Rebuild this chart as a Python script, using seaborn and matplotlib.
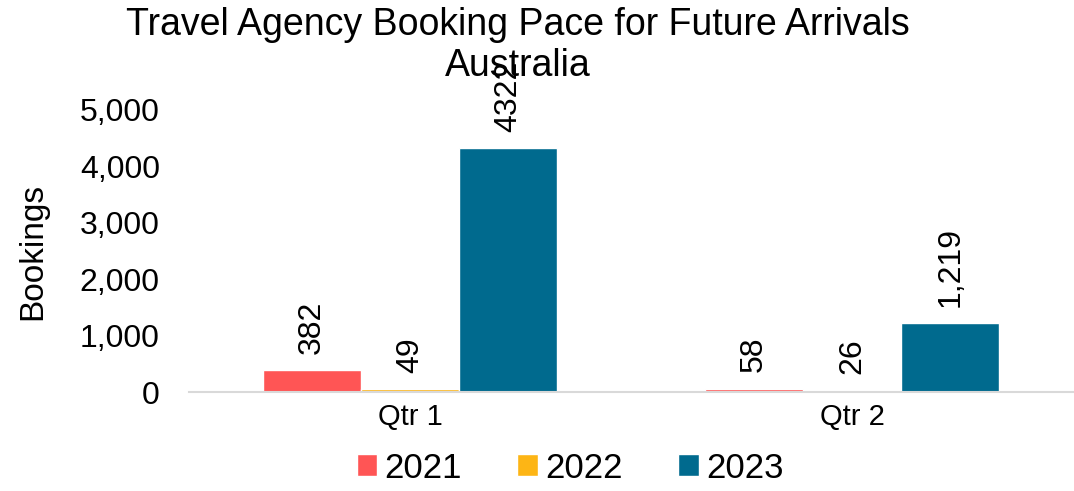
import pandas as pd
import matplotlib.pyplot as plt
import seaborn as sns

quarters = ['Qtr 1', 'Qtr 2']
years = ['2021', '2022', '2023']
bookings_2021 = [382, 58]
bookings_2022 = [49, 26]
bookings_2023 = [4322, 1219]
label_text = {
    '2021': ['382', '58'],
    '2022': ['49', '26'],
    '2023': ['4322', '1,219'],
}
colors = ['#FF5555', '#FDB515', '#006A8E']

df = pd.DataFrame({
    'quarter': quarters * 3,
    'year': [y for y in years for _ in quarters],
    'bookings': bookings_2021 + bookings_2022 + bookings_2023,
})

sns.set_style('white')
plt.rcParams['font.family'] = ['Liberation Sans', 'DejaVu Sans']
plt.rcParams['text.color'] = 'black'
plt.rcParams['axes.labelcolor'] = 'black'
plt.rcParams['xtick.color'] = 'black'
plt.rcParams['ytick.color'] = 'black'

fig = plt.figure(figsize=(10.74, 4.91), dpi=100)
ax = fig.add_axes([0.176, 0.2016, 0.823, 0.5744])

sns.barplot(data=df, x='quarter', y='bookings', hue='year', hue_order=years,
            palette=colors, width=0.667, saturation=1, ax=ax, legend=True)

for cont, yr in zip(ax.containers, years):
    ax.bar_label(cont, labels=label_text[yr], rotation=90, padding=12,
                 fontsize=23, clip_on=False)

ax.set_ylim(0, 5000)
ax.set_xlim(-0.5, 1.5)
ax.set_yticks(range(0, 5001, 1000))
ax.set_yticklabels([f'{v:,}' for v in range(0, 5001, 1000)])
ax.tick_params(axis='y', labelsize=23, length=0, pad=21)
ax.tick_params(axis='x', labelsize=21, length=0, pad=8)
ax.set_xlabel('')
ax.set_ylabel('Bookings', fontsize=24, labelpad=23)

for s in ['top', 'right', 'left']:
    ax.spines[s].set_visible(False)
ax.spines['bottom'].set_color('#D9D9D9')
ax.spines['bottom'].set_linewidth(1.5)

ax.legend(loc='center', bbox_to_anchor=(0.431, -0.27), ncol=3,
          frameon=False, fontsize=25, handlelength=0.6, handleheight=0.6,
          handletextpad=0.2, columnspacing=1.6)

fig.suptitle('Travel Agency Booking Pace for Future Arrivals\nAustralia',
             x=0.482, y=0.985, fontsize=27, linespacing=1.15)

fig.savefig('out.png', dpi=100)
